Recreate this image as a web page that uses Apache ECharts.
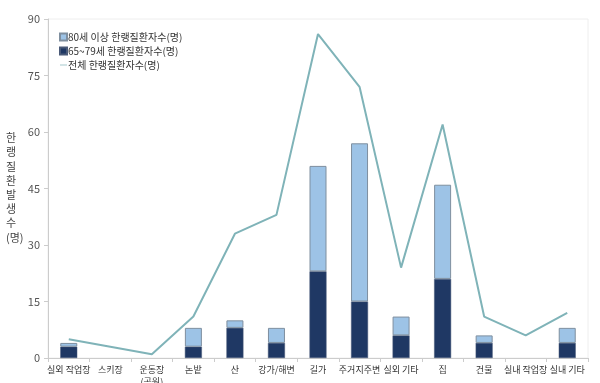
<!DOCTYPE html>
<html><head><meta charset="utf-8">
<script src="https://cdn.jsdelivr.net/npm/echarts@6/dist/echarts.min.js"></script>
<style>html,body{margin:0;padding:0;background:#fff}#c{width:600px;height:383px}</style>
</head><body><div id="c"></div>
<script>
const categories = ['실외 작업장','스키장','운동장\n(공원)','논밭','산','강가/해변','길가','주거지주변','실외 기타','집','건물','실내 작업장','실내 기타'];
const age65to79 = [3,0,0,3,8,4,23,15,6,21,4,0,4];
const age80plus = [1,0,0,5,2,4,28,42,5,25,2,0,4];
const totalAll = [5,3,1,11,33,38,86,72,24,62,11,6,12];
const yTicks = [0,15,30,45,60,75,90];
const font = '"Noto Sans CJK KR","Noto Sans",sans-serif';
const hideZero = arr => arr.map(v => v === 0 ? '-' : v);
const chart = echarts.init(document.getElementById('c'));
chart.setOption({
  animation:false,
  textStyle:{fontFamily:font},
  grid:{left:48,right:12,top:19,bottom:25,outerBoundsMode:'none',containLabel:false,show:true,borderColor:'#eeeeee',borderWidth:1},
  legend:{
    left:54, top:27, orient:'vertical', itemGap:4, itemWidth:7, itemHeight:7,
    textStyle:{fontFamily:font,fontSize:10,color:'#333',padding:[0,0,0,-4]},
    data:[
      {name:'80세 이상 한랭질환자수(명)',icon:'rect'},
      {name:'65~79세 한랭질환자수(명)',icon:'rect'},
      {name:'전체 한랭질환자수(명)',icon:'path://M0,4L10,4L10,5L0,5Z'}
    ]
  },
  xAxis:{
    type:'category', data:categories,
    axisLine:{lineStyle:{color:'#cccccc'}},
    axisTick:{show:true,alignWithLabel:false,lineStyle:{color:'#cccccc'},length:4},
    axisLabel:{fontFamily:font,fontSize:9,color:'#333',interval:0,margin:6,lineHeight:12}
  },
  yAxis:{
    type:'value', min:0, max:90, interval:15,
    axisLine:{show:true,lineStyle:{color:'#cccccc'}},
    axisTick:{show:true,length:4,lineStyle:{color:'#cccccc'}},
    splitLine:{show:false},
    axisLabel:{fontFamily:font,fontSize:11,color:'#555',margin:8,
      formatter:v=>yTicks.includes(v)?String(v):''}
  },
  graphic:[{
    type:'text', left:6, top:131,
    style:{text:'한\n랭\n질\n환\n발\n생\n수\n(명)',font:'11px '+font,fill:'#444',lineHeight:14.2,align:'center',x:0}
  }],
  series:[
    {name:'65~79세 한랭질환자수(명)',type:'bar',stack:'s',data:hideZero(age65to79),barWidth:17,
     itemStyle:{color:'#1f3864',borderColor:'#4a5a78',borderWidth:0.5}},
    {name:'80세 이상 한랭질환자수(명)',type:'bar',stack:'s',data:hideZero(age80plus),barWidth:17,
     itemStyle:{color:'#9dc3e6',borderColor:'#7f8f9f',borderWidth:1}},
    {name:'전체 한랭질환자수(명)',type:'line',data:totalAll,symbol:'none',
     lineStyle:{color:'#7fb3b8',width:2},itemStyle:{color:'#7fb3b8'}}
  ]
});
</script></body></html>
